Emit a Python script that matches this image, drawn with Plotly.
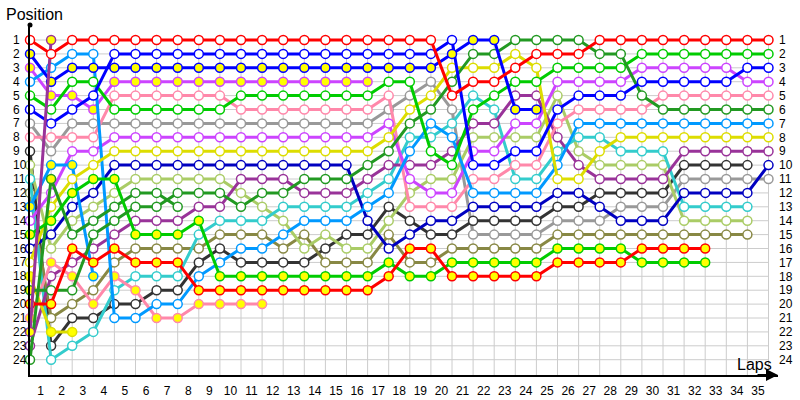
import plotly.graph_objects as go

N = None
laps = list(range(0, 36))
lap_labels = [str(i) for i in range(1, 36)]
pos_labels = [str(i) for i in range(1, 25)]

# positions per lap (lap 0 = starting grid)
red1 = [1, 2] + [1]*18 + [5, 4, 4, 3, 2, 2, 2] + [1]*9
blue_y = [2, 4] + [3]*18 + [2, 1, 1, 6, 6] + [N]*11
violet_y = [3, 5, 5, 6] + [4]*13 + [N]*19
lightblue = [4, 3, 2, 2, 21, 21, 20, 20, 18, 17, 16, 16, 15, 14, 14, 14, 13, 12, 9, 7, 8, 12, 12, 12, 12, 10] + [7]*10
green1 = [5, 6, 4, 4, 6, 6, 6, 6, 6, 6] + [5]*7 + [4, 4, 9, 10, 6, 5, 4, 4, 3, 3, 3, 3] + [2]*7
blue_a = [6, 7, 6, 5] + [2]*16 + [1, 10, 10, 9, 9, 6, 5, 5, 5, 4, 4, 4, 4, 4, 3, 3]
gray = [7, 9] + [7]*15 + [6, 5, 4, 6, 15, 15, 15, 15, 14, 14, 14, 13, 13, 13, 11, 11, 11, 11, 11]
pink = [8, 8, 8, 8, 5, 5, 5, 5, 5, 5] + [6]*7 + [5, 13, 13, 13, 11, 11, 10, 10, 7, 6, 6, 6, 6] + [5]*6
darkgray = [9, 23, 21, 21, 20, 20, 19, 19, 17, 16, 17, 17, 17, 17, 16, 15, 15, 13, 14, 15, 15, 14, 14, 14, 14, 13, 13, 12, 12, 12, 12, 10, 10, 10, 10, N]
yellowgreen = [10, 16, 14, 13, 12, 11, 11, 11, 11, 11, 12, 13, 14, 16, 15, 16, 16, 14, 12, 11, 11, 8, 8, 8, 8, 5, 9, 10, 10, 10, 10, 14, 14, 14, 14, N]
cyan = [11, 24, 23, 22, 19, 18, 18, 18, 15, 14, 14, 14, 13, 13, 13, 13, 12, 11, 8, 8, 7, 5, 6, 11, 11, 9, 8, 8, 9, 9, 9, 13, 13, 13, 13, N]
olive = [12, 21, 20, 19, 17, 16, 16, 16, 16, 15, 15, 15, 16, 15, 17, 17, 17, 15, 17, 17, 16, 16, 16, 16, 16] + [15]*10 + [N]
dodger_y = [13, 10, 10, 18] + [N]*32
violet_w = [14, 12, 9, 9] + [8]*13 + [7, 11, 12, 12, 9, 9, 7, 7, 4, 4, 4, 4, 3, 3, 3, 3, 3, 4, 4]
green_y15 = [15, 14, 12, 11, 11, 15, 15, 15, 14] + [18]*8 + [17, 18, 18, 17, 17, 17, 17, 17, 16, 16, 16, 16, 17, 17, 17, 17, N, N, N]
navy = [16, 15, 13, 12] + [10]*12 + [14, 16, 15, 14, 14, 13, 13, 13, 13, 12, 12, 13, 14, 14, 14, 12, 12, 12, 12, 10]
yellow_w = [17, 13, 11, 10] + [9]*13 + [8, 6, 5, 3, 3, 3, 2, 3, 11, 11, 9] + [8]*8
yellow_y = [18, 22, 22] + [N]*33
dkgreen19 = [19, 19, 19, 15, 14, 13, 13, 12, 12, 12, 13, 12, 12, 11, 11, 11, 10, 9, 7, 6, 4, 2, 2, 1, 1, 1, 1, 2, 2, 5] + [6]*6
red2 = [20, 20, 16, 17, 16, 17, 17, 17] + [19]*9 + [18, 16, 16, 18, 18, 18, 18, 18, 17, 17, 17, 17, 16, 16, 16, 16, N, N, N]
pink_y = [21, 17, 18, 20, 18, 19, 21, 21, 20, 20, 20, 20] + [N]*24
purple_y = [22, 1] + [N]*34
magenta = [23, 18, 17, 16, 15, 14, 14, 14, 13, 13, 11, 11, 11, 12, 12, 12, 11, 10, 10, 10, 9, 7, 7, 5, 5, 8, 10, 11, 11, 11, 11, 9, 9, 9, 9, 9]
dkgreen24 = [24, 11, 15, 14, 13, 12, 12, 13] + [N]*28

# laps drawn with a yellow marker fill
ALL = list(range(36))
yel_blue_y = ALL
yel_violet_y = ALL
yel_dodger_y = ALL
yel_green_y15 = ALL
yel_yellow_y = ALL
yel_red2 = ALL
yel_pink_y = ALL
yel_purple_y = ALL
yel_dkgreen19 = [0]
yel_dkgreen24 = [1]

series = [
    ("gray", "#999999", gray, []),
    ("darkgray", "#333333", darkgray, []),
    ("olive", "#888844", olive, []),
    ("yellowgreen", "#aacc66", yellowgreen, []),
    ("cyan", "#33cccc", cyan, []),
    ("magenta", "#993399", magenta, []),
    ("navy", "#0000c0", navy, []),
    ("pink", "#ff88aa", pink, []),
    ("pink_y", "#ff88aa", pink_y, yel_pink_y),
    ("violet_w", "#cc44ff", violet_w, []),
    ("violet_y", "#cc44ff", violet_y, yel_violet_y),
    ("lightblue", "#0099ff", lightblue, []),
    ("dodger_y", "#0099ff", dodger_y, yel_dodger_y),
    ("yellow_w", "#dddd00", yellow_w, []),
    ("yellow_y", "#dddd00", yellow_y, yel_yellow_y),
    ("dkgreen24", "#229922", dkgreen24, yel_dkgreen24),
    ("green_y15", "#00cc00", green_y15, yel_green_y15),
    ("green1", "#00cc00", green1, []),
    ("dkgreen19", "#229922", dkgreen19, yel_dkgreen19),
    ("red2", "#ff0000", red2, yel_red2),
    ("blue_a", "#0000ff", blue_a, []),
    ("blue_y", "#0000ff", blue_y, yel_blue_y),
    ("purple_y", "#993399", purple_y, yel_purple_y),
    ("red1", "#ff0000", red1, []),
]

fig = go.Figure()

# grid
gx, gy = [], []
for L in range(1, 36):
    gx += [L, L, None]
    gy += [1, 25.1, None]
for p in range(1, 25):
    gx += [0, 35, None]
    gy += [p, p, None]
fig.add_trace(go.Scatter(x=gx, y=gy, mode="lines", line=dict(color="#cccccc", width=1),
                         hoverinfo="skip", showlegend=False))

for name, col, pos, yel in series:
    fills = ["#ffff00" if i in yel else "#ffffff" for i in range(len(pos))]
    fig.add_trace(go.Scatter(
        x=laps, y=pos, mode="lines+markers", name=name,
        line=dict(color=col, width=3),
        marker=dict(size=9, color=fills, line=dict(color=col, width=1.5)),
        connectgaps=False, showlegend=False, cliponaxis=False))

# top dot of y axis
fig.add_trace(go.Scatter(x=[0], y=[-0.08], mode="markers", marker=dict(size=5, color="black"),
                         cliponaxis=False, showlegend=False, hoverinfo="skip"))
# right-side labels carrier
fig.add_trace(go.Scatter(x=[0], y=[1], yaxis="y2", mode="markers", marker=dict(opacity=0),
                         showlegend=False, hoverinfo="skip"))

annotations = [
    dict(text="Position", xref="paper", yref="paper", x=-0.035, y=1.0, xanchor="left",
         yanchor="bottom", showarrow=False, font=dict(size=16)),
    dict(text="Laps", xref="paper", yref="paper", x=0.995, y=0.0, xanchor="right",
         yanchor="bottom", showarrow=False, font=dict(size=16)),
    dict(text="", xref="paper", yref="paper", x=1.0, y=0.0, ax=-22, ay=0,
         axref="pixel", ayref="pixel", showarrow=True, arrowhead=2, arrowsize=1.2,
         arrowwidth=2, arrowcolor="black"),
]
# left-hand position labels (left aligned)
for p, lab in zip(range(1, 25), pos_labels):
    annotations.append(dict(text=lab, xref="paper", yref="y", x=-0.025, y=p, xanchor="left",
                            yanchor="middle", showarrow=False, font=dict(size=12)))

fig.update_layout(
    width=800, height=400,
    margin=dict(l=30, r=22, t=25, b=25, autoexpand=False),
    plot_bgcolor="white", paper_bgcolor="white",
    font=dict(family="Liberation Sans, Arial, sans-serif", size=12, color="black"),
    xaxis=dict(range=[0, 35.45], tickvals=[i + 0.5 for i in range(35)], ticktext=lap_labels,
               showgrid=False, zeroline=False, showline=True, linecolor="black", linewidth=2,
               ticks="", ticklabelstandoff=4, automargin=False),
    yaxis=dict(range=[25.1, -0.08], tickvals=list(range(1, 25)), showticklabels=False,
               showgrid=False, zeroline=False, showline=True, linecolor="black", linewidth=2,
               ticks="", automargin=False),
    yaxis2=dict(range=[25.1, -0.08], tickvals=list(range(1, 25)), ticktext=pos_labels,
                overlaying="y", side="right", showgrid=False, zeroline=False, showline=False,
                ticks="", ticklabelstandoff=0, automargin=False),
    annotations=annotations,
)

fig.write_html("out.html", config={"displayModeBar": False},
               post_script="document.body.style.margin='0px';")
